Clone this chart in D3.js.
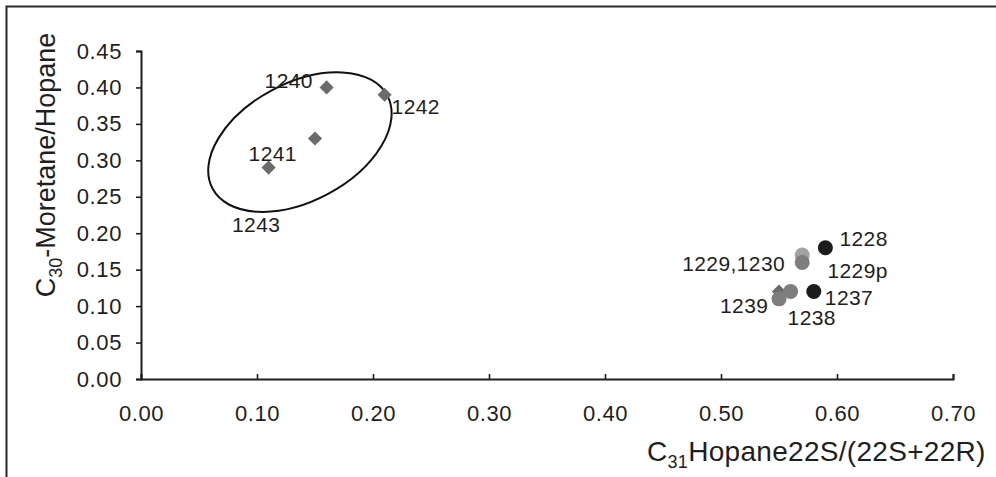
<!DOCTYPE html>
<html>
<head>
<meta charset="utf-8">
<script src="https://cdn.jsdelivr.net/npm/d3@7"></script>
<style>
  html, body { margin: 0; padding: 0; background: #fff; }
  svg { display: block; font-family: "Liberation Sans", Arial, sans-serif; }
</style>
</head>
<body>
<svg id="chart" width="996" height="477"></svg>
<script>
// ratio values
const xTicks = [0, 0.1, 0.2, 0.3, 0.4, 0.5, 0.6, 0.7];
const yTicks = [0, 0.05, 0.1, 0.15, 0.2, 0.25, 0.3, 0.35, 0.4, 0.45];

// ellipse group (diamonds)
const diamondIds = ['1240', '1242', '1241-pt', '1243-pt', '1239d'];
const diamondX = [0.16, 0.21, 0.15, 0.11, 0.55];
const diamondY = [0.40, 0.39, 0.33, 0.29, 0.12];

// circle group
const circleIds = ['1228', '1229', '1230', '1237', '1238', '1239'];
const circleX = [0.59, 0.57, 0.57, 0.58, 0.56, 0.55];
const circleY = [0.18, 0.17, 0.16, 0.12, 0.12, 0.11];
const circleShade = ['dark', 'light', 'mid', 'dark', 'mid', 'mid'];

// point labels, anchored at a data position
const labelText = ['1240', '1242', '1241', '1243', '1228', '1229,1230', '1229p', '1237', '1239', '1238'];
const labelX = [0.16, 0.21, 0.11, 0.15, 0.59, 0.57, 0.59, 0.58, 0.55, 0.56];
const labelY = [0.40, 0.39, 0.29, 0.33, 0.18, 0.16, 0.18, 0.12, 0.11, 0.12];
// pixel offsets of each label from its anchor (layout only)
const labelDx = [-62, 7, -20, -83, 14, -120, 2, 11, -59, -3];
const labelDy = [1, 19, -7, 94, -2, 9, 30, 13, 14, 33];

// circled group outline (centre in data units)
const ringCenter = [0.137, 0.325];

const shadeColor = { dark: '#1c1c1c', mid: '#7e7e7e', light: '#a2a2a2' };

const svg = d3.select('#chart');
const x = d3.scaleLinear().domain([0, 0.7]).range([141, 953]);
const y = d3.scaleLinear().domain([0, 0.45]).range([379, 51]);
const ink = '#1e1e1e';

// frame
svg.append('rect')
  .attr('x', 6.5).attr('y', 6.5)
  .attr('width', 1020).attr('height', 500)
  .attr('fill', 'none').attr('stroke', '#2a2a2a').attr('stroke-width', 2);

// axes
const xAxis = svg.append('g')
  .attr('transform', `translate(0,${y(0)})`)
  .call(d3.axisBottom(x).tickValues(xTicks).tickSizeInner(-5).tickSizeOuter(-5)
    .tickFormat(d3.format('.2f')).tickPadding(26));
const yAxis = svg.append('g')
  .attr('transform', `translate(${x(0)},0)`)
  .call(d3.axisLeft(y).tickValues(yTicks).tickSizeInner(5).tickSizeOuter(5)
    .tickFormat(d3.format('.2f')).tickPadding(14));

[xAxis, yAxis].forEach(g => {
  g.select('.domain').attr('stroke', ink).attr('stroke-width', 2);
  g.selectAll('.tick line').attr('stroke', ink).attr('stroke-width', 1.6);
  g.selectAll('.tick text')
    .attr('fill', ink)
    .style('font-size', '22px')
    .style('letter-spacing', '0.6px')
    .style('font-family', '"Liberation Sans", Arial, sans-serif');
});

// axis titles
const xt = svg.append('text')
  .attr('x', 647).attr('y', 461)
  .attr('fill', ink)
  .style('font-size', '28px')
  .style('letter-spacing', '0.3px');
xt.append('tspan').text('C');
xt.append('tspan').attr('dy', 7).style('font-size', '18px').text('31');
xt.append('tspan').attr('dy', -7).text('Hopane22S/(22S+22R)');

const yt = svg.append('text')
  .attr('transform', `translate(55,165) rotate(-90)`)
  .attr('text-anchor', 'middle')
  .attr('fill', ink)
  .style('font-size', '27px');
yt.append('tspan').text('C');
yt.append('tspan').attr('dy', 7).style('font-size', '18px').text('30');
yt.append('tspan').attr('dy', -7).text('-Moretane/Hopane');

// ring around the first group
svg.append('ellipse')
  .attr('cx', 0).attr('cy', 0)
  .attr('rx', 99).attr('ry', 59)
  .attr('transform', `translate(${x(ringCenter[0])},${y(ringCenter[1])}) rotate(-28)`)
  .attr('fill', 'none').attr('stroke', '#111').attr('stroke-width', 2);

// diamonds
const diamonds = diamondIds.map((id, i) => ({ id, x: diamondX[i], y: diamondY[i] }));
svg.append('g').selectAll('path')
  .data(diamonds)
  .join('path')
  .attr('d', d3.symbol(d3.symbolSquare, 100))
  .attr('transform', d => `translate(${x(d.x)},${y(d.y)}) rotate(45)`)
  .attr('fill', '#6b6b6b');

// circles
const circles = circleIds.map((id, i) => ({ id, x: circleX[i], y: circleY[i], shade: circleShade[i] }));
svg.append('g').selectAll('circle')
  .data(circles)
  .join('circle')
  .attr('cx', d => x(d.x))
  .attr('cy', d => y(d.y))
  .attr('r', 7.5)
  .attr('fill', d => shadeColor[d.shade]);

// labels
const labels = labelText.map((t, i) => ({ t, x: labelX[i], y: labelY[i], dx: labelDx[i], dy: labelDy[i] }));
svg.append('g').selectAll('text')
  .data(labels)
  .join('text')
  .attr('x', d => x(d.x) + d.dx)
  .attr('y', d => y(d.y) + d.dy)
  .attr('fill', ink)
  .style('font-size', '21px')
  .style('letter-spacing', '0.4px')
  .text(d => d.t);
</script>
</body>
</html>
